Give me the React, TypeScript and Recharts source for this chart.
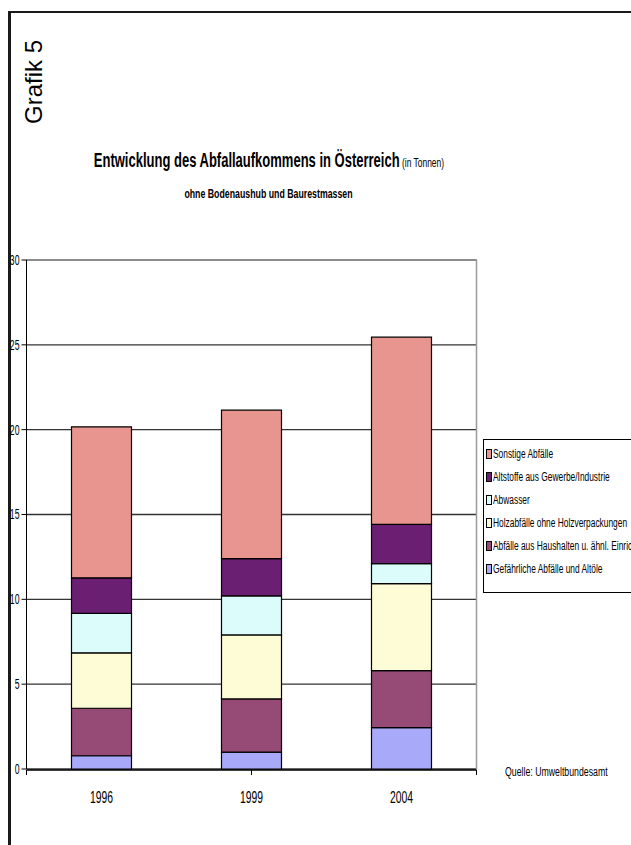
import React from "react";
import { BarChart, Bar, XAxis, YAxis, CartesianGrid } from "recharts";

const YEARS = ["1996", "1999", "2004"];
const GEFAEHRLICH = [0.78, 1.0, 2.44];
const HAUSHALT = [2.8, 3.13, 3.36];
const HOLZ = [3.27, 3.77, 5.12];
const ABWASSER = [2.32, 2.3, 1.18];
const ALTSTOFFE = [2.1, 2.2, 2.32];
const SONSTIGE = [8.9, 8.75, 11.03];
const Y_TICKS = [0, 5, 10, 15, 20, 25, 30];

// bottom to top of the stack
const SERIES = [
  { key: "gef", name: "Gefährliche Abfälle und Altöle", color: "#A8A9F8", values: GEFAEHRLICH },
  { key: "haus", name: "Abfälle aus Haushalten u. ähnl. Einrichtungen", color: "#964A76", values: HAUSHALT },
  { key: "holz", name: "Holzabfälle ohne Holzverpackungen", color: "#FEFCD6", values: HOLZ },
  { key: "abw", name: "Abwasser", color: "#DCFCFC", values: ABWASSER },
  { key: "alt", name: "Altstoffe aus Gewerbe/Industrie", color: "#6A1F73", values: ALTSTOFFE },
  { key: "sonst", name: "Sonstige Abfälle", color: "#E8948F", values: SONSTIGE },
];

const data = YEARS.map((year, i) => {
  const row: any = { year };
  SERIES.forEach((s) => (row[s.key] = s.values[i]));
  return row;
});

const FONT = "'Liberation Sans', Arial, sans-serif";
const SQ = 0.65;

const YTick = ({ x, y, payload }: any) => (
  <g transform={`translate(${x},${y})`}>
    <text transform="scale(0.62,1)" textAnchor="end" dy="0.35em" fontSize={14} fontFamily={FONT} fill="#000">
      {payload.value}
    </text>
  </g>
);

const XTick = ({ x, y, payload }: any) => (
  <g transform={`translate(${x},${y})`}>
    <text transform="scale(0.61,1)" textAnchor="middle" dy={34} fontSize={17} fontFamily={FONT} fill="#000">
      {payload.value}
    </text>
  </g>
);

const squeeze = (origin: string, s = SQ): React.CSSProperties => ({
  transform: `scaleX(${s})`,
  transformOrigin: origin,
  whiteSpace: "nowrap",
});

export default function App() {
  const legendItems = [...SERIES].reverse();
  return (
    <div style={{ position: "absolute", left: 0, top: 0, width: 631, height: 845, overflow: "hidden", background: "#fff", fontFamily: FONT }}>
      <div style={{ position: "absolute", left: 8, top: 11, width: 3, height: 834, background: "#1a1a1a" }} />
      <div style={{ position: "absolute", left: 8, top: 11, width: 623, height: 2, background: "#1a1a1a" }} />

      <div style={{ position: "absolute", left: 34, top: 82, width: 0, height: 0 }}>
        <div style={{ position: "absolute", left: 0, top: 0, transform: "translate(-50%,-50%) rotate(-90deg)", fontSize: 24, whiteSpace: "nowrap", lineHeight: 1 }}>
          Grafik 5
        </div>
      </div>

      <div style={{ position: "absolute", left: 0, width: 536, top: 148, textAlign: "center", lineHeight: 1.2 }}>
        <div style={squeeze("center")}>
          <span style={{ fontSize: 20, fontWeight: "bold" }}>Entwicklung des Abfallaufkommens in Österreich</span>
          <span style={{ fontSize: 13 }}> (in Tonnen)</span>
        </div>
      </div>
      <div style={{ position: "absolute", left: 0, width: 537, top: 186, textAlign: "center", lineHeight: 1.2 }}>
        <div style={{ ...squeeze("center"), fontSize: 13.5, fontWeight: "bold" }}>ohne Bodenaushub und Baurestmassen</div>
      </div>

      <div style={{ position: "absolute", left: 0, top: 0 }}>
        <BarChart width={631} height={845} data={data} margin={{ top: 259, right: 153.5, bottom: 74, left: 0 }} barSize={60}>
          <CartesianGrid vertical={false} stroke="#333" strokeWidth={1.3} />
          <XAxis xAxisId="n" type="number" domain={[0, 3]} ticks={[0, 1, 2, 3]} height={1} tick={() => <g />} tickSize={5} stroke="#000" axisLine={{ stroke: "#000", strokeWidth: 1.3 }} tickLine={{ stroke: "#000" }} allowDataOverflow />
          <XAxis dataKey="year" height={1} axisLine={false} tickLine={false} tickSize={0} tickMargin={0} tick={<XTick />} interval={0} />
          <XAxis xAxisId="t" orientation="top" type="number" domain={[0, 1]} height={1} tick={false} tickLine={false} axisLine={{ stroke: "#999", strokeWidth: 1.5 }} />
          <YAxis domain={[0, 30]} ticks={Y_TICKS} width={26.5} tickSize={5} tickMargin={2} tick={<YTick />} axisLine={{ stroke: "#000" }} tickLine={{ stroke: "#000" }} interval={0} />
          <YAxis yAxisId="r" orientation="right" domain={[0, 30]} width={1} tick={false} tickLine={false} axisLine={{ stroke: "#999", strokeWidth: 1.5 }} />
          {SERIES.map((s) => (
            <Bar key={s.key} dataKey={s.key} name={s.name} stackId="a" fill={s.color} stroke="#000" strokeWidth={1.2} isAnimationActive={false} />
          ))}
        </BarChart>
      </div>

      <div style={{ position: "absolute", left: 483, top: 439, width: 200, height: 152, border: "1px solid #000", background: "#fff" }}>
        {legendItems.map((s, i) => (
          <div key={s.key} style={{ position: "absolute", left: 2, top: 6 + i * 23, height: 16, display: "flex", alignItems: "center" }}>
            <div style={{ width: 4, height: 8, border: "1px solid #000", background: s.color }} />
            <div style={{ ...squeeze("left center", 0.67), fontSize: 12.5, marginLeft: 1 }}>{s.name}</div>
          </div>
        ))}
      </div>

      <div style={{ position: "absolute", left: 505, top: 765, fontSize: 12.5, ...squeeze("left center", 0.7) }}>Quelle: Umweltbundesamt</div>
    </div>
  );
}
